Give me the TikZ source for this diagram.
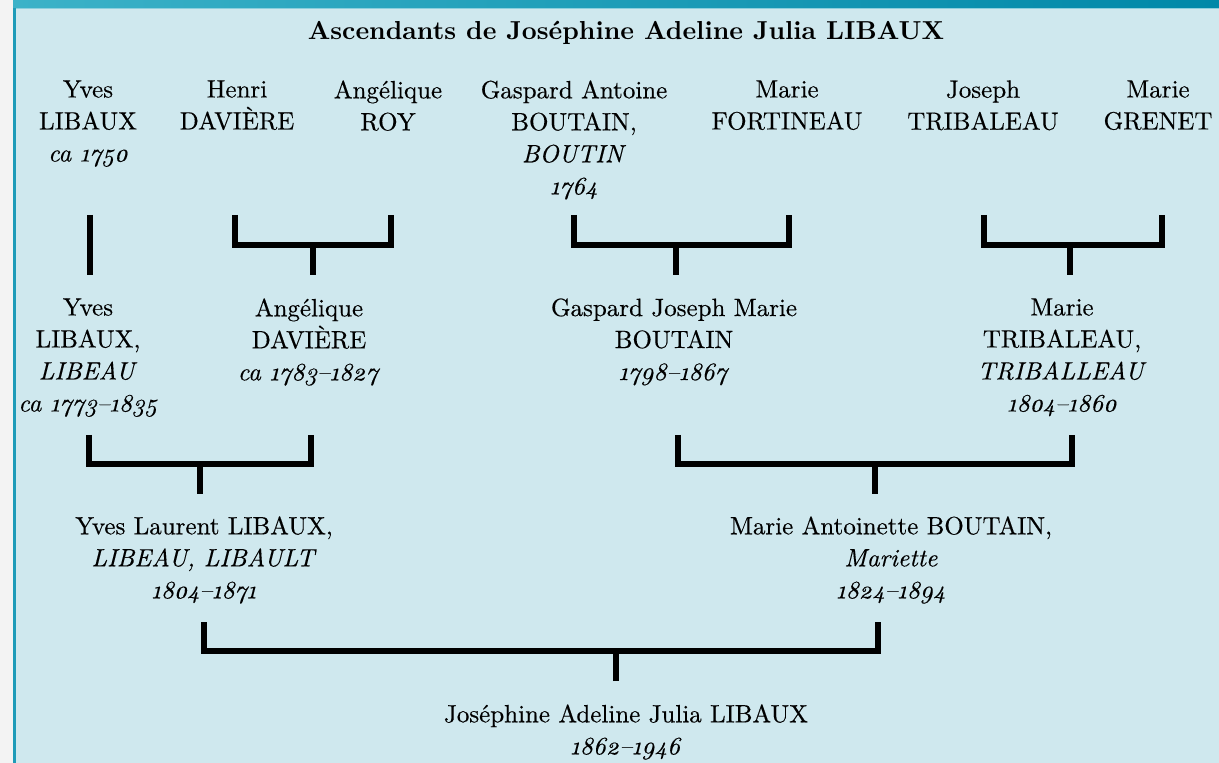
\documentclass[tikz,border=0pt]{standalone}
\usepackage{fontspec}
\setmainfont{lmroman10}[Extension=.otf, UprightFont=*-regular, BoldFont=*-bold,
  ItalicFont=*-italic, BoldItalicFont=*-bolditalic, Numbers=OldStyle,
  UprightFeatures={FakeBold=0.35}, ItalicFeatures={FakeBold=0.35}]
\usepackage{tikz}
\usetikzlibrary{positioning}

\definecolor{bgblue}{HTML}{CFE8EE}
\definecolor{paper}{HTML}{F3F3F3}
\definecolor{frameteal}{HTML}{1E9BB8}
\definecolor{bandlight}{HTML}{3CB2C8}
\definecolor{banddark}{HTML}{0088A8}
\definecolor{bandedge}{HTML}{8CCFDD}

\begin{document}
\begin{tikzpicture}[x=0.5pt,y=-0.5pt,
   every node/.style={inner sep=0pt,anchor=north,align=center,
     font=\fontsize{12.5}{16}\selectfont},
   tree/.style={line width=2.8pt,line join=miter}]
   \useasboundingbox (0,0) rectangle (1219,763);
   % background and frame
   \fill[bgblue] (0,0) rectangle (1219,763);
   \fill[paper] (0,0) rectangle (13,763);
   \fill[frameteal] (13,8) rectangle (16,763);
   \shade[left color=bandlight,right color=banddark] (13,0) rectangle (1219,8);
   \fill[bandedge] (16,8) rectangle (1219,9.5);

   \node[font=\fontsize{13}{16}\selectfont\bfseries] (title) at (626,21)
      {Ascendants de Joséphine Adeline Julia LIBAUX};

   % great-grandparents
   \node (yves1)      at (88,80)   {Yves\\LIBAUX\\\textit{ca 1750}};
   \node (henri)      at (237,80)  {Henri\\DAVIÈRE};
   \node (angelique1) at (388,80)  {Angélique\\ROY};
   \node (gaspard1)   at (574,80)  {Gaspard Antoine\\BOUTAIN,\\\textit{BOUTIN}\\\textit{1764}};
   \node (marie1)     at (787,80)  {Marie\\FORTINEAU};
   \node (joseph)     at (983,80)  {Joseph\\TRIBALEAU};
   \node (marie2)     at (1158,80) {Marie\\GRENET};

   % grandparents
   \node (yves2)      at (88,298)   {Yves\\LIBAUX,\\\textit{LIBEAU}\\\textit{ca 1773--1835}};
   \node (angelique2) at (309,298)  {Angélique\\DAVIÈRE\\\textit{ca 1783--1827}};
   \node (gaspard2)   at (674,298)  {Gaspard Joseph Marie\\BOUTAIN\\\textit{1798--1867}};
   \node (marie3)     at (1062,298) {Marie\\TRIBALEAU,\\\textit{TRIBALLEAU}\\\textit{1804--1860}};

   % parents
   \node (yves3)  at (204,516) {Yves Laurent LIBAUX,\\\textit{LIBEAU, LIBAULT}\\\textit{1804--1871}};
   \node (marie4) at (891,516) {Marie Antoinette BOUTAIN,\\\textit{Mariette}\\\textit{1824--1894}};

   \node (josephine) at (626,704) {Joséphine Adeline Julia LIBAUX\\\textit{1862--1946}};

   % bracket ends
   \coordinate (yves1-t)      at (90,215);
   \coordinate (henri-t)      at (235,215);
   \coordinate (angelique1-t) at (391,215);
   \coordinate (gaspard1-t)   at (574,215);
   \coordinate (marie1-t)     at (789,215);
   \coordinate (joseph-t)     at (984,215);
   \coordinate (marie2-t)     at (1162,215);
   \coordinate (yves2-b)      at (90,275);
   \coordinate (angelique2-b) at (313,275);
   \coordinate (gaspard2-b)   at (676,275);
   \coordinate (marie3-b)     at (1070,275);
   \coordinate (yves2-t)      at (89,435);
   \coordinate (angelique2-t) at (311,435);
   \coordinate (gaspard2-t)   at (678,435);
   \coordinate (marie3-t)     at (1072,435);
   \coordinate (yves3-b)      at (200,494);
   \coordinate (marie4-b)     at (875,494);
   \coordinate (yves3-t)      at (204,622);
   \coordinate (marie4-t)     at (878,622);
   \coordinate (josephine-b)  at (616,681);

   \draw[tree] (yves1-t) -- (yves2-b);
   \draw[tree] (henri-t) -- ++(0,30) -| (angelique1-t);
   \draw[tree] (angelique2-b) -- ++(0,-30);
   \draw[tree] (gaspard1-t) -- ++(0,30) -| (marie1-t);
   \draw[tree] (gaspard2-b) -- ++(0,-30);
   \draw[tree] (joseph-t) -- ++(0,30) -| (marie2-t);
   \draw[tree] (marie3-b) -- ++(0,-30);

   \draw[tree] (yves2-t) -- ++(0,29) -| (angelique2-t);
   \draw[tree] (yves3-b) -- ++(0,-30);
   \draw[tree] (gaspard2-t) -- ++(0,29) -| (marie3-t);
   \draw[tree] (marie4-b) -- ++(0,-30);

   \draw[tree] (yves3-t) -- ++(0,29) -| (marie4-t);
   \draw[tree] (josephine-b) -- ++(0,-30);
\end{tikzpicture}
\end{document}
